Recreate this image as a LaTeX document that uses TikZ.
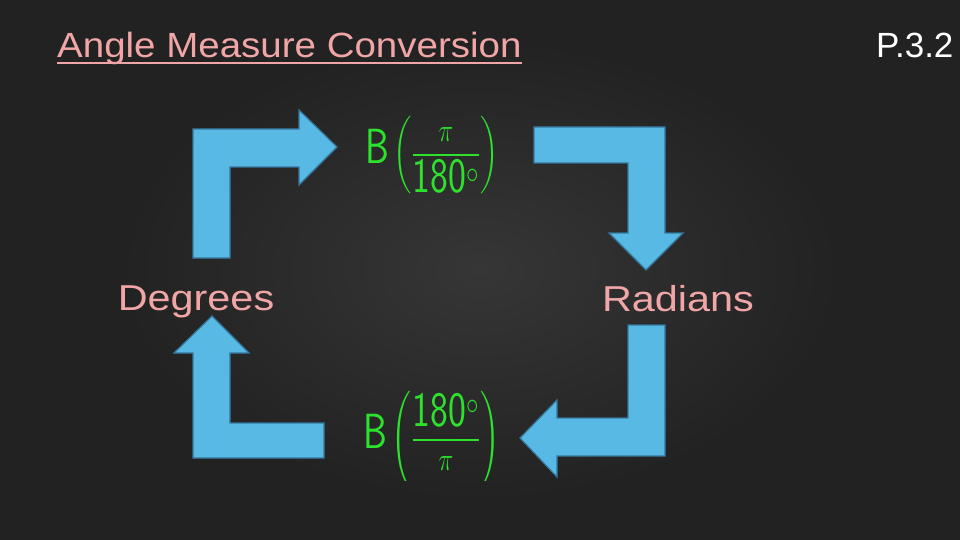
\documentclass[tikz,border=0pt]{standalone}
\usepackage{amsmath}
\usepackage{fontspec}
\usepackage{graphicx}
\setmainfont{Liberation Sans}
\usetikzlibrary{positioning}
\definecolor{board}{RGB}{34,34,34}
\definecolor{boardlight}{RGB}{54,54,54}
\definecolor{chalkpink}{RGB}{240,166,166}
\definecolor{arrowblue}{RGB}{88,186,228}
\definecolor{arrowedge}{RGB}{52,118,156}
\definecolor{chalkgreen}{RGB}{44,226,44}

\begin{document}
\begin{tikzpicture}[x=1pt,y=-1pt,
  blockarrow/.style={fill=arrowblue,draw=arrowedge,line width=1.2pt,line join=miter},
  word/.style={text=chalkpink,inner sep=0pt,anchor=base,font=\fontsize{36}{40}\selectfont},
  formula/.style={text=chalkgreen,inner sep=0pt,font=\fontsize{38}{44}\selectfont}]
  \useasboundingbox (0,0) rectangle (960,540);
  \fill[board] (0,0) rectangle (960,540);
  \shade[inner color=boardlight,outer color=board] (120,40) rectangle (840,500);
  % title and page number
  \node[word,anchor=base west,font=\fontsize{35}{40}\selectfont] (title) at (57,58) {\scalebox{1.1}[1]{Angle Measure Conversion}};
  \draw[chalkpink,line width=2.5pt] ([yshift=-5pt]title.base west) -- ([yshift=-5pt]title.base east);
  \node[word,text=white,anchor=base west,font=\fontsize{35}{40}\selectfont] (page) at (876,58) {P.3.2};
  % the two units
  \node[word] (deg) at (196,310) {\scalebox{1.15}[1]{Degrees}};
  \node[word] (rad) at (678,311) {\scalebox{1.15}[1]{Radians}};
  % conversion factors
  \begin{scope}
    \clip (340,100) rectangle (520,198);
    \node[formula] (toRad) at (432,155) {\scalebox{1}[1.3]{$\mathsf{B}\left(\dfrac{\pi}{\mathsf{180^\circ}}\right)$}};
  \end{scope}
  \begin{scope}
    \clip (340,380) rectangle (520,480);
    \node[formula] (toDeg) at (432,440) {\scalebox{1}[1.3]{$\mathsf{B}\left(\dfrac{\mathsf{180^\circ}}{\pi}\right)$}};
  \end{scope}
  % block arrows
  \draw[blockarrow] (193,258) -- (193,129) -- (299,129) -- (299,110) -- (337,147)
    -- (299,185) -- (299,167) -- (230,167) -- (230,258) -- cycle;
  \draw[blockarrow] (534,127) -- (665,127) -- (665,233) -- (683,233) -- (646,270)
    -- (609,233) -- (628,233) -- (628,163) -- (534,163) -- cycle;
  \draw[blockarrow] (628,325) -- (665,325) -- (665,456) -- (557,456) -- (557,477)
    -- (520,438) -- (557,400) -- (557,418) -- (628,418) -- cycle;
  \draw[blockarrow] (324,458) -- (193,458) -- (193,353) -- (174,353) -- (212,316)
    -- (249,353) -- (230,353) -- (230,423) -- (324,423) -- cycle;
\end{tikzpicture}
\end{document}
